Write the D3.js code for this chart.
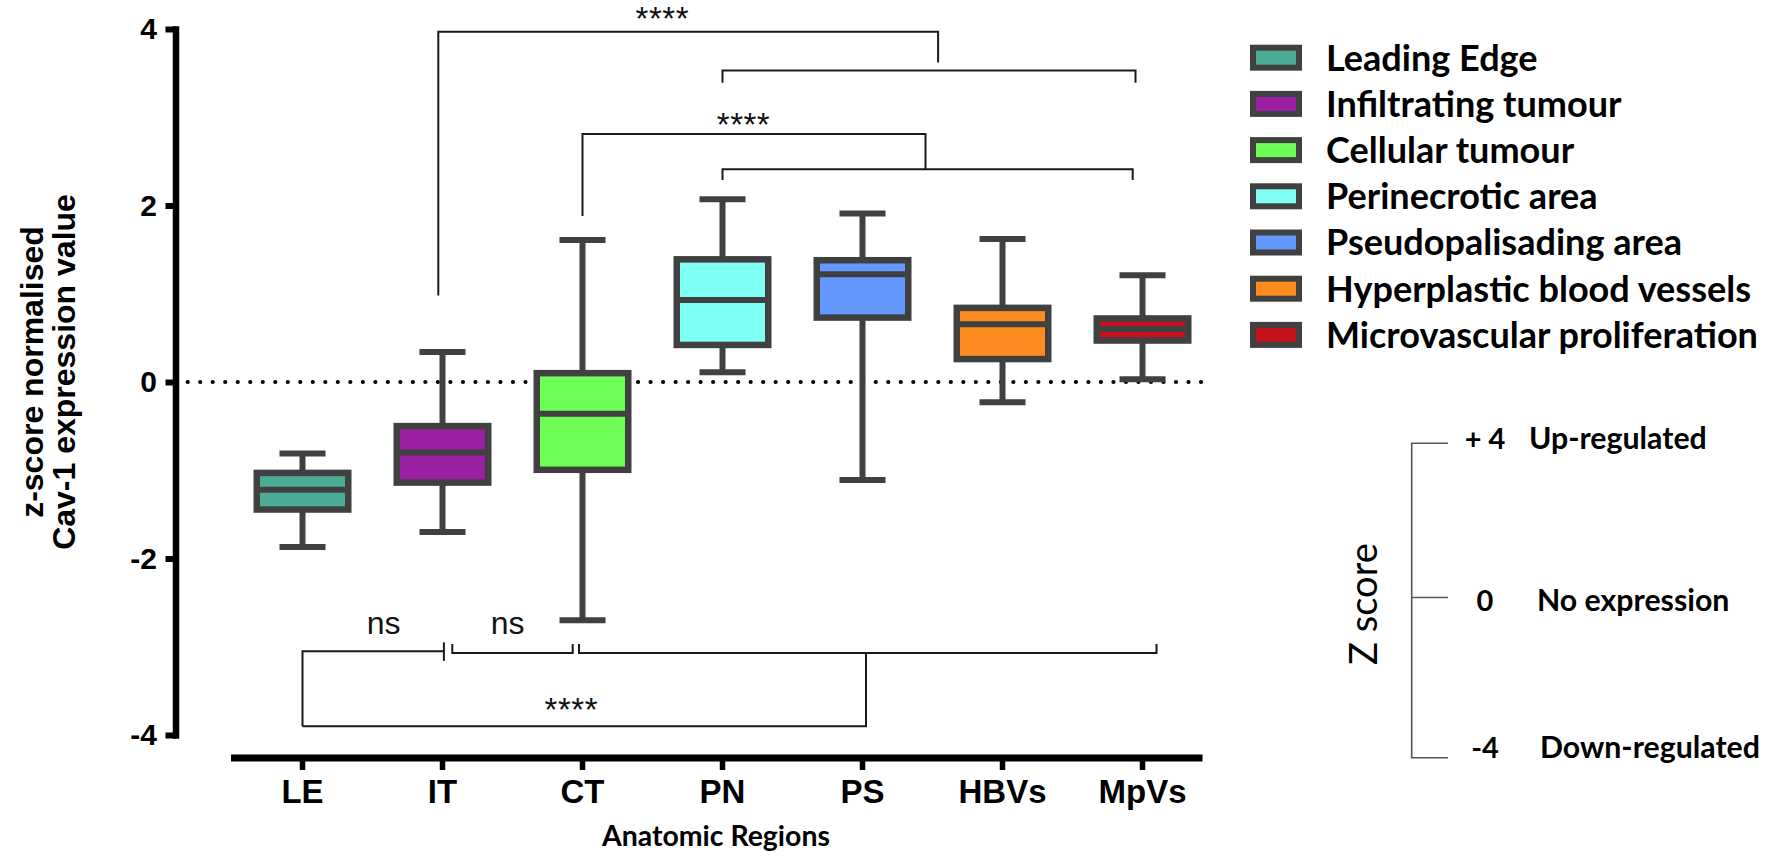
<!DOCTYPE html>
<html><head><meta charset="utf-8">
<script src="https://cdn.jsdelivr.net/npm/d3@7"></script>
<style>body{margin:0;background:#fff}svg{display:block}</style>
</head><body><svg id="c" width="1772" height="858"></svg>
<script>
// ---------- data ----------
const categories = ["LE","IT","CT","PN","PS","HBVs","MpVs"];
const legendLabels = ["Leading Edge","Infiltrating tumour","Cellular tumour","Perinecrotic area","Pseudopalisading area","Hyperplastic blood vessels","Microvascular proliferation"];
const boxColors = ["#4cab97","#9a1fa2","#6dff55","#7ffff4","#6399ff","#fd8b1f","#c5121c"];
const whiskerLow  = [-1.87,-1.70,-2.70, 0.11,-1.11,-0.23, 0.03];
const q1          = [-1.445,-1.14,-0.995,0.42, 0.73, 0.26, 0.47];
const median      = [-1.22,-0.80,-0.36, 0.93, 1.22, 0.655,0.60];
const q3          = [-1.03,-0.50, 0.10, 1.39, 1.38, 0.84, 0.72];
const whiskerHigh = [-0.81, 0.34, 1.61, 2.07, 1.91, 1.62, 1.21];
const yTicks = [-4,-2,0,2,4];
// significance brackets as polylines in (category index, z value)
const brackets = [
  [[0.97,0.98],[0.97,3.97],[4.54,3.97],[4.54,3.62]],
  [[3,3.39],[3,3.53],[5.95,3.53],[5.95,3.39]],
  [[2,1.88],[2,2.81],[4.45,2.81],[4.45,2.41]],
  [[3,2.29],[3,2.41],[5.93,2.41],[5.93,2.29]],
  [[0,-3.90],[0,-3.05],[1.01,-3.05]],
  [[1.01,-2.95],[1.01,-3.16]],
  [[1.07,-2.97],[1.07,-3.07],[1.93,-3.07],[1.93,-2.97]],
  [[1.975,-2.97],[1.975,-3.07],[6.10,-3.07],[6.10,-2.97]],
  [[0,-3.90],[4.025,-3.90],[4.025,-3.07]]
];
const sigLabels = ["****","****","ns","ns","****"];
const sigPos = [[2.57,3.99],[3.15,2.79],[0.58,-2.85],[1.465,-2.85],[1.92,-3.84]];
const zKeyValues = [4,0,-4];
const zKeyNumbers = ["+ 4","0","-4"];
const zKeyLabels = ["Up-regulated","No expression","Down-regulated"];

// ---------- setup ----------
const svg = d3.select("#c");
svg.append("rect").attr("width",1772).attr("height",858).attr("fill","#fff");
const dark = "#404040";
const arial = "'Liberation Sans', Arial, sans-serif";
const cal = "Lato, 'Open Sans', sans-serif";

const y = d3.scaleLinear().domain([-4,4]).range([735,29]);
const x = d3.scaleBand().domain(categories).range([232.5,1212.5]);
const cx = c => x(c) + x.bandwidth()/2;
const xi = d3.scaleLinear().domain([0,6]).range([cx(categories[0]), cx(categories[6])]);

function fitFont(sel, target){
  const fs = parseFloat(sel.attr("font-size"));
  const w = sel.node().getComputedTextLength();
  return fs*target/w;
}

// zero dotted line
svg.append("line").attr("x1",187.7).attr("x2",1209).attr("y1",y(0)).attr("y2",y(0))
  .attr("stroke","#000").attr("stroke-width",4.2).attr("stroke-linecap","round")
  .attr("stroke-dasharray","0.01 12.5");

// brackets
const line = d3.line().x(d=>xi(d[0])).y(d=>y(d[1]));
svg.append("g").selectAll("path").data(brackets).join("path")
  .attr("d",line).attr("fill","none").attr("stroke","#1a1a1a").attr("stroke-width",2);
svg.append("g").selectAll("text").data(sigLabels).join("text")
  .attr("x",(d,i)=>xi(sigPos[i][0])).attr("y",(d,i)=>y(sigPos[i][1]))
  .attr("text-anchor","middle").attr("font-family",arial)
  .attr("font-size",d=>d==="ns"?32:33).attr("letter-spacing",d=>d==="ns"?0:0.5)
  .attr("fill","#111").text(d=>d);

// boxes
const bw = 91.5, capW = 46;
const data = categories.map((c,i)=>({c,i,lo:whiskerLow[i],q1:q1[i],md:median[i],q3:q3[i],hi:whiskerHigh[i],col:boxColors[i]}));
const bg = svg.append("g").selectAll("g").data(data).join("g");
bg.append("line").attr("x1",d=>cx(d.c)).attr("x2",d=>cx(d.c)).attr("y1",d=>y(d.hi)).attr("y2",d=>y(d.lo))
  .attr("stroke",dark).attr("stroke-width",6);
bg.append("line").attr("x1",d=>cx(d.c)-capW/2).attr("x2",d=>cx(d.c)+capW/2).attr("y1",d=>y(d.hi)).attr("y2",d=>y(d.hi))
  .attr("stroke",dark).attr("stroke-width",6);
bg.append("line").attr("x1",d=>cx(d.c)-capW/2).attr("x2",d=>cx(d.c)+capW/2).attr("y1",d=>y(d.lo)).attr("y2",d=>y(d.lo))
  .attr("stroke",dark).attr("stroke-width",6);
bg.append("rect").attr("x",d=>cx(d.c)-bw/2).attr("width",bw)
  .attr("y",d=>y(d.q3)).attr("height",d=>y(d.q1)-y(d.q3))
  .attr("fill",d=>d.col).attr("stroke",dark).attr("stroke-width",6.5);
bg.append("line").attr("x1",d=>cx(d.c)-bw/2).attr("x2",d=>cx(d.c)+bw/2).attr("y1",d=>y(d.md)).attr("y2",d=>y(d.md))
  .attr("stroke",dark).attr("stroke-width",6);

// y axis
const gy = svg.append("g").attr("transform","translate(175.5,0)")
  .call(d3.axisLeft(y).tickValues(yTicks).tickSize(10).tickSizeOuter(0).tickPadding(8.5).tickFormat(d=>String(d)));
gy.select(".domain").attr("stroke","#000").attr("stroke-width",6.5).attr("stroke-linecap","square");
gy.selectAll(".tick line").attr("stroke","#000").attr("stroke-width",6);
gy.selectAll(".tick text").attr("font-family",arial).attr("font-weight","bold").attr("font-size",30).attr("fill","#000");

// x axis
const gx = svg.append("g").attr("transform","translate(0,758)")
  .call(d3.axisBottom(x).tickSize(12).tickSizeOuter(0).tickPadding(9.5));
gx.select(".domain").remove();
gx.append("line").attr("x1",x.range()[0]-1.5).attr("x2",cx(categories[6])+60).attr("y1",0).attr("y2",0)
  .attr("stroke","#000").attr("stroke-width",7);
gx.selectAll(".tick line").attr("stroke","#000").attr("stroke-width",5.5);
gx.selectAll(".tick text").attr("font-family",arial).attr("font-weight","bold").attr("font-size",33).attr("fill","#000");

// axis titles
const yt = svg.append("g").attr("font-family",arial).attr("font-weight","bold").attr("font-size",32).attr("text-anchor","middle");
yt.append("text").attr("transform","translate(43,372) rotate(-90)").text("z-score normalised");
yt.append("text").attr("transform","translate(75,372) rotate(-90)").text("Cav-1 expression value");

const xt = svg.append("text").attr("x",716).attr("y",846).attr("text-anchor","middle")
  .attr("font-family",cal).attr("font-weight","bold").attr("font-size",26).text("Anatomic Regions");
xt.attr("font-size",fitFont(xt,228));

// legend
const lg = svg.append("g");
const rowY = i => 57.7 + i*46.2;
lg.selectAll("rect").data(legendLabels).join("rect")
  .attr("x",1253).attr("y",(d,i)=>rowY(i)-10).attr("width",46).attr("height",20)
  .attr("fill",(d,i)=>boxColors[i]).attr("stroke",dark).attr("stroke-width",6);
const lt = lg.selectAll("text").data(legendLabels).join("text")
  .attr("x",1326).attr("y",(d,i)=>rowY(i)).attr("dy","0.36em")
  .attr("font-family",cal).attr("font-weight","bold").attr("font-size",32).attr("fill","#000").text(d=>d);
lt.attr("font-size",fitFont(lt.filter((d,i)=>i===6),432));

// z-score key
const z = d3.scaleLinear().domain([4,-4]).range([443.3,757.7]);
const kg = svg.append("g");
kg.append("path").attr("d",`M1448,${z(4)}H1411.7V${z(-4)}H1448M1411.7,${z(0)-3}H1448`)
  .attr("fill","none").attr("stroke","#555").attr("stroke-width",1.6);
const off = [6,10,0], labX=[1529,1537,1540];
kg.selectAll("text.n").data(zKeyNumbers).join("text").attr("class","n")
  .attr("x",1485).attr("y",(d,i)=>z(zKeyValues[i])+off[i]).attr("text-anchor","middle")
  .attr("font-family",cal).attr("font-weight","bold").attr("font-size",29).text(d=>d);
const kl = kg.selectAll("text.l").data(zKeyLabels).join("text").attr("class","l")
  .attr("x",(d,i)=>labX[i]).attr("y",(d,i)=>z(zKeyValues[i])+off[i])
  .attr("font-family",cal).attr("font-weight","bold").attr("font-size",28).text(d=>d);
kl.attr("font-size",fitFont(kl.filter((d,i)=>i===2),220));
const zt = kg.append("text").attr("transform","translate(1377,604) rotate(-90)").attr("text-anchor","middle")
  .attr("font-family",cal).attr("font-size",36).text("Z score");
zt.attr("font-size",fitFont(zt,122));
</script></body></html>
